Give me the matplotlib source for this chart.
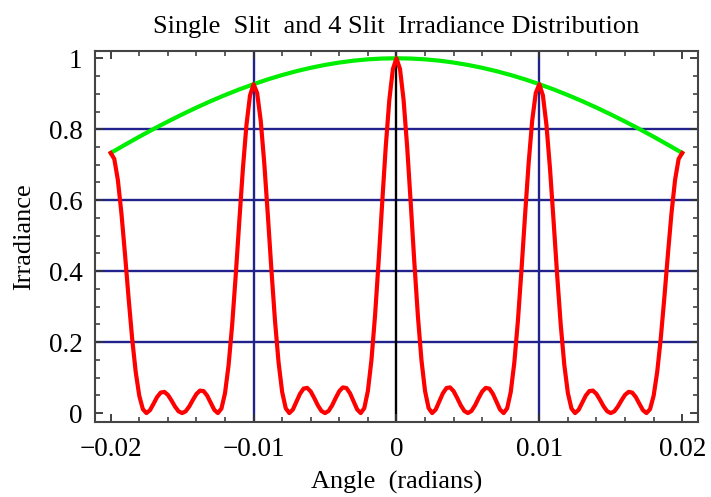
import numpy as np
import matplotlib
matplotlib.use("Agg")
import matplotlib.pyplot as plt
from matplotlib.ticker import MultipleLocator

plt.rcParams['font.family'] = ['Liberation Serif', 'DejaVu Serif']

# 4 slit curve, sampled every 0.00025 rad from -0.02 to 0.02
angle = np.linspace(-0.02, 0.02, 161)
red_irradiance = [
    0.7331, 0.7164, 0.6571, 0.5633, 0.4477, 0.3252, 0.2106, 0.1158, 0.0487, 0.0111,
    0.0000, 0.0082, 0.0264, 0.0454, 0.0578, 0.0598, 0.0514, 0.0358, 0.0184, 0.0050,
    0.0000, 0.0051, 0.0188, 0.0371, 0.0538, 0.0634, 0.0620, 0.0492, 0.0290, 0.0091,
    0.0000, 0.0127, 0.0560, 0.1349, 0.2481, 0.3877, 0.5401, 0.6875, 0.8115, 0.8952,
    0.9270, 0.9021, 0.8241, 0.7035, 0.5568, 0.4028, 0.2597, 0.1423, 0.0595, 0.0136,
    0.0000, 0.0099, 0.0318, 0.0544, 0.0690, 0.0711, 0.0608, 0.0422, 0.0216, 0.0059,
    0.0000, 0.0059, 0.0218, 0.0427, 0.0618, 0.0724, 0.0706, 0.0559, 0.0328, 0.0102,
    0.0000, 0.0141, 0.0623, 0.1495, 0.2738, 0.4263, 0.5916, 0.7503, 0.8822, 0.9695,
    1.0000,
    0.9695, 0.8822, 0.7503, 0.5916, 0.4263, 0.2738, 0.1495, 0.0623, 0.0141, 0.0000,
    0.0102, 0.0328, 0.0559, 0.0706, 0.0724, 0.0618, 0.0427, 0.0218, 0.0059, 0.0000,
    0.0059, 0.0216, 0.0422, 0.0608, 0.0711, 0.0690, 0.0544, 0.0318, 0.0099, 0.0000,
    0.0136, 0.0595, 0.1423, 0.2597, 0.4028, 0.5568, 0.7035, 0.8241, 0.9021, 0.9270,
    0.8952, 0.8115, 0.6875, 0.5401, 0.3877, 0.2481, 0.1349, 0.0560, 0.0127, 0.0000,
    0.0091, 0.0290, 0.0492, 0.0620, 0.0634, 0.0538, 0.0371, 0.0188, 0.0051, 0.0000,
    0.0050, 0.0184, 0.0358, 0.0514, 0.0598, 0.0578, 0.0454, 0.0264, 0.0082, 0.0000,
    0.0111, 0.0487, 0.1158, 0.2106, 0.3252, 0.4477, 0.5633, 0.6571, 0.7164, 0.7331,
]

# single slit envelope, every 0.001 rad
env_angle = np.linspace(-0.02, 0.02, 41)
green_irradiance = [
    0.7331, 0.7563, 0.7789, 0.8007, 0.8217, 0.8418, 0.8610, 0.8792, 0.8963, 0.9123,
    0.9270, 0.9406, 0.9528, 0.9637, 0.9732, 0.9813, 0.9880, 0.9933, 0.9970, 0.9993,
    1.0000,
    0.9993, 0.9970, 0.9933, 0.9880, 0.9813, 0.9732, 0.9637, 0.9528, 0.9406, 0.9270,
    0.9123, 0.8963, 0.8792, 0.8610, 0.8418, 0.8217, 0.8007, 0.7789, 0.7563, 0.7331,
]

x_ticks = [-0.02, -0.01, 0, 0.01, 0.02]
x_labels = ['\u22120.02', '\u22120.01', '0', '0.01', '0.02']
y_ticks = [0, 0.2, 0.4, 0.6, 0.8, 1]
y_labels = ['0', '0.2', '0.4', '0.6', '0.8', '1']

fig = plt.figure(figsize=(7.11, 4.97), dpi=100)
ax = fig.add_axes([0.1336, 0.151, 0.848, 0.746])

grid_col = '#22228c'
for yv in [0.2, 0.4, 0.6, 0.8]:
    ax.axhline(yv, color=grid_col, lw=1.7, zorder=1)
for xv in [-0.01, 0.01]:
    ax.axvline(xv, color=grid_col, lw=1.7, zorder=1)
ax.axvline(0, color='black', lw=1.7, zorder=1)

ax.plot(env_angle, green_irradiance, color='#00ee00', lw=3.0, zorder=2)
ax.plot(angle, red_irradiance, color='#ff0000', lw=3.0, zorder=3)

ax.set_xlim(-0.0211, 0.0211)
ax.set_ylim(-0.025, 1.02)
ax.set_xticks(x_ticks)
ax.set_xticklabels(x_labels)
ax.set_yticks(y_ticks)
ax.set_yticklabels(y_labels)
ax.xaxis.set_minor_locator(MultipleLocator(0.002))
ax.yaxis.set_minor_locator(MultipleLocator(0.05))
ax.tick_params(which='both', direction='in', top=True, right=True,
               color='#333333', labelsize=19.5)
ax.tick_params(which='major', length=6, width=1.3)
ax.tick_params(which='minor', length=3.5, width=1.1)
ax.tick_params(axis='x', pad=11)
ax.tick_params(axis='y', pad=9)
for s in ax.spines.values():
    s.set_color('#444444')
    s.set_linewidth(1.5)

ax.set_title('Single  Slit  and 4 Slit  Irradiance Distribution', fontsize=19, pad=13)
ax.set_xlabel('Angle  (radians)', fontsize=19, labelpad=6)
ax.set_ylabel('Irradiance', fontsize=19, labelpad=10)

fig.savefig('out.png', dpi=100)
